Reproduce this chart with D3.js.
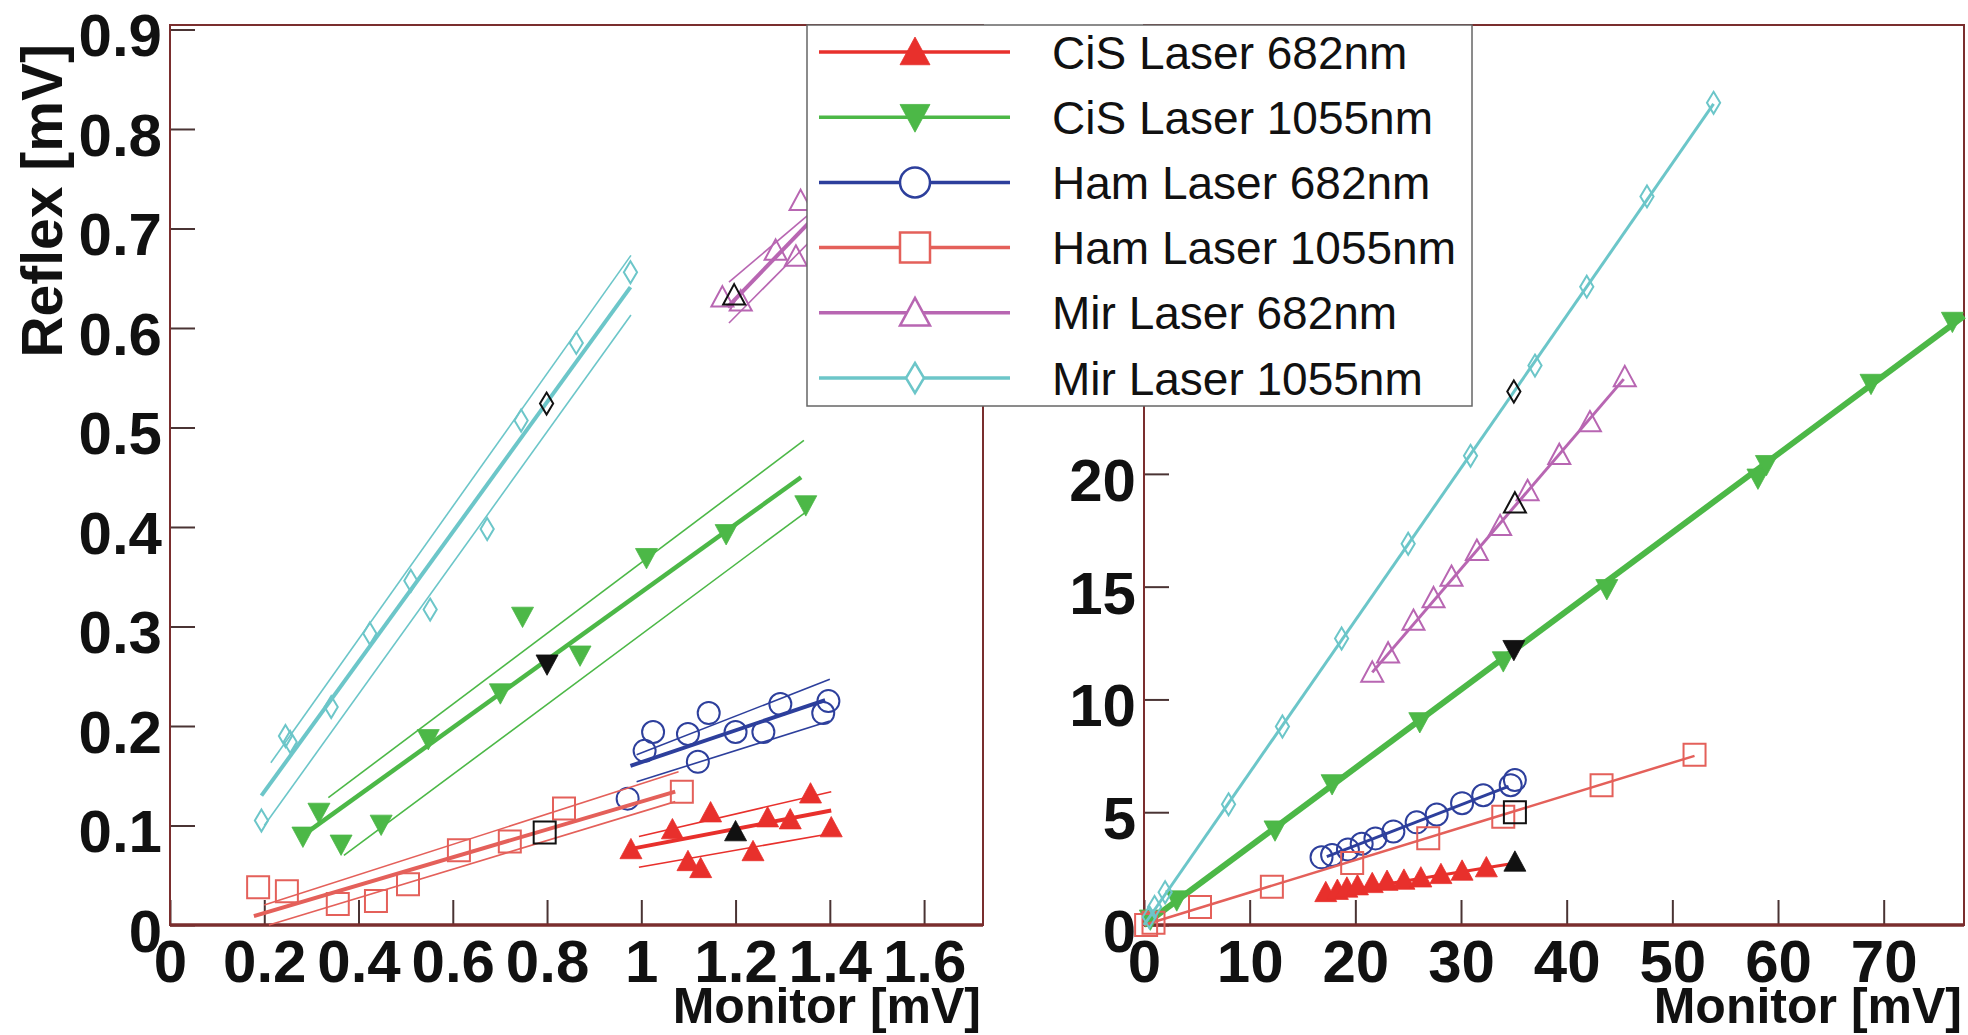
<!DOCTYPE html>
<html>
<head>
<meta charset="utf-8">
<script src="https://cdnjs.cloudflare.com/ajax/libs/d3/7.8.5/d3.min.js"></script>
<style>
  body { margin: 0; background: #fff; }
  svg text { font-family: "Liberation Sans", Arial, Helvetica, sans-serif; }
</style>
</head>
<body>
<div id="chart"></div>
<script>
var seriesNames = ['CiS Laser 682nm', 'CiS Laser 1055nm', 'Ham Laser 682nm', 'Ham Laser 1055nm', 'Mir Laser 682nm', 'Mir Laser 1055nm'];

// left panel (small signals), [monitor mV, reflex mV]
var cis682Left = [[0.978,0.076],[1.066,0.096],[1.099,0.064],[1.126,0.057],[1.147,0.113],[1.237,0.074],[1.268,0.108],[1.316,0.106],[1.359,0.132],[1.403,0.098]];
var cis1055Left = [[0.282,0.089],[0.316,0.113],[0.363,0.081],[0.448,0.101],[0.548,0.187],[0.701,0.233],[0.748,0.31],[0.87,0.271],[1.011,0.369],[1.18,0.393],[1.349,0.422]];
var ham682Left = [[0.971,0.127],[1.007,0.175],[1.025,0.194],[1.099,0.192],[1.12,0.164],[1.143,0.213],[1.2,0.194],[1.259,0.194],[1.295,0.222],[1.386,0.213],[1.397,0.225]];
var ham1055Left = [[0.187,0.038],[0.248,0.034],[0.356,0.021],[0.437,0.024],[0.505,0.041],[0.613,0.075],[0.721,0.084],[0.836,0.117],[1.086,0.134]];
var mir682Left = [[1.172,0.631],[1.211,0.627],[1.285,0.678],[1.328,0.672],[1.338,0.728]];
var mir1055Left = [[0.194,0.105],[0.245,0.19],[0.255,0.184],[0.342,0.219],[0.424,0.293],[0.511,0.346],[0.552,0.317],[0.673,0.398],[0.745,0.507],[0.862,0.585],[0.977,0.656]];

// black reference points (null = none)
var refLeft = [[1.2,0.094], [0.8,0.262], null, [0.795,0.093], [1.197,0.633], [0.799,0.524]];

// fit lines and their error bands
var fitLeft = [
  [[0.984,0.077],[1.403,0.115]],
  [[0.282,0.09],[1.339,0.45]],
  [[0.977,0.16],[1.39,0.226]],
  [[0.178,0.009],[1.072,0.134]],
  [[1.183,0.621],[1.36,0.708]],
  [[0.194,0.13],[0.977,0.641]]
];
var bandLeft = [
  [[[0.995,0.089],[1.403,0.134]], [[0.995,0.058],[1.403,0.092]]],
  [[[0.336,0.128],[1.345,0.487]], [[0.369,0.07],[1.349,0.415]]],
  [[[0.99,0.171],[1.40,0.247]], [[0.99,0.144],[1.40,0.205]]],
  [[[0.2,0.02],[1.079,0.154]], [[0.21,0.0],[1.072,0.124]]],
  [[[1.186,0.646],[1.36,0.716]], [[1.186,0.605],[1.36,0.688]]],
  [[[0.214,0.163],[0.978,0.673]], [[0.2,0.1],[0.978,0.613]]]
];

// right panel (full range)
var cis682Right = [[17.2,1.45],[18.3,1.55],[19.2,1.65],[20.2,1.75],[21.6,1.85],[23.0,1.95],[24.6,2.0],[26.2,2.1],[28.1,2.25],[30.1,2.4],[32.4,2.55]];
var cis1055Right = [[0.6,0.25],[3.1,1.1],[12.4,4.2],[17.8,6.25],[26.1,9.0],[34.0,11.7],[43.8,14.9],[58.1,19.8],[58.9,20.4],[68.8,24.0],[76.5,26.75]];
var ham682Right = [[16.8,3.0],[17.8,3.1],[19.3,3.35],[20.6,3.6],[21.9,3.84],[23.6,4.15],[25.8,4.55],[27.7,4.9],[30.1,5.4],[32.1,5.75],[34.7,6.2],[35.1,6.43]];
var ham1055Right = [[0.2,0.0],[0.9,0.1],[5.3,0.8],[12.1,1.7],[19.7,2.75],[26.9,3.85],[34.0,4.8],[43.3,6.2],[52.1,7.55]];
var mir682Right = [[21.6,11.2],[23.1,12.05],[25.5,13.5],[27.4,14.5],[29.1,15.45],[31.5,16.6],[33.7,17.7],[36.3,19.25],[39.3,20.85],[42.2,22.3],[45.5,24.3]];
var mir1055Right = [[0.5,0.35],[1.0,0.8],[2.0,1.45],[8.0,5.35],[13.1,8.8],[18.7,12.7],[25.0,16.9],[30.9,20.8],[37.0,24.8],[41.9,28.3],[47.6,32.3],[53.9,36.45]];

var refRight = [[35.1,2.8], [35.0,12.2], null, [35.1,5.0], [35.1,18.7], [35.0,23.65]];

var fitRight = [
  [[16.8,1.35],[34.6,2.7]],
  [[0,0],[77.6,27.0]],
  [[17.3,3.03],[34.5,6.15]],
  [[0,0],[52.1,7.5]],
  [[21.6,11.2],[45.4,24.2]],
  [[0,0],[53.9,36.4]]
];

var leftXTicks = [0, 0.2, 0.4, 0.6, 0.8, 1, 1.2, 1.4, 1.6];
var leftXLabels = ['0', '0.2', '0.4', '0.6', '0.8', '1', '1.2', '1.4', '1.6'];
var leftYTicks = [0, 0.1, 0.2, 0.3, 0.4, 0.5, 0.6, 0.7, 0.8, 0.9];
var leftYLabels = ['0', '0.1', '0.2', '0.3', '0.4', '0.5', '0.6', '0.7', '0.8', '0.9'];
var rightXTicks = [0, 10, 20, 30, 40, 50, 60, 70];
var rightXLabels = ['0', '10', '20', '30', '40', '50', '60', '70'];
// labels above 20 sit behind the legend
var rightYTicks = [0, 5, 10, 15, 20];
var rightYLabels = ['0', '5', '10', '15', '20'];

// looks
var looks = [
  {color: '#e8302c', marker: 'tri', filled: true, wL: 4, wR: 3},
  {color: '#4cb847', marker: 'triDown', filled: true, wL: 4.5, wR: 6},
  {color: '#2d3f9c', marker: 'circle', filled: false, wL: 4, wR: 3},
  {color: '#e4605a', marker: 'square', filled: false, wL: 4, wR: 2.5},
  {color: '#b866b2', marker: 'tri', filled: false, wL: 4, wR: 3},
  {color: '#6cc6c9', marker: 'diamond', filled: false, wL: 4, wR: 3}
];
var frameColor = '#7a2e2e';
var tickColor = '#4a3434';

var W = 1968, H = 1035;

var svg = d3.select('#chart').append('svg')
  .attr('width', W)
  .attr('height', H);

svg.append('rect').attr('width', W).attr('height', H).attr('fill', '#fff');

function markerPath(type, s) {
  var h = s / 2;
  if (type === 'tri') return 'M0,' + (-h) + 'L' + h + ',' + (h * 0.85) + 'L' + (-h) + ',' + (h * 0.85) + 'Z';
  if (type === 'triDown') return 'M0,' + h + 'L' + h + ',' + (-h * 0.85) + 'L' + (-h) + ',' + (-h * 0.85) + 'Z';
  if (type === 'square') return 'M' + (-h) + ',' + (-h) + 'H' + h + 'V' + h + 'H' + (-h) + 'Z';
  if (type === 'diamond') return 'M0,' + (-h) + 'L' + (h * 0.6) + ',0L0,' + h + 'L' + (-h * 0.6) + ',0Z';
  return 'M' + (-h) + ',0A' + h + ',' + h + ' 0 1,0 ' + h + ',0A' + h + ',' + h + ' 0 1,0 ' + (-h) + ',0Z';
}

function drawMarker(g, look, cx, cy, size, color) {
  g.append('path')
    .attr('d', markerPath(look.marker, size))
    .attr('transform', 'translate(' + cx + ',' + cy + ')')
    .attr('fill', look.filled ? color : 'none')
    .attr('stroke', color)
    .attr('stroke-width', look.filled ? 0.8 : 2);
}

function drawAxes(g, x, y, xt, xl, xMinor, yt, yl, yMinor, yMajorAll) {
  var x0 = x.range()[0], x1 = x.range()[1];
  var y0 = y.range()[0], y1 = y.range()[1];

  var ax = g.append('g').attr('transform', 'translate(0,' + y0 + ')');
  ax.call(d3.axisBottom(x).tickValues(xMinor).tickSizeInner(-12).tickSizeOuter(0).tickFormat(''));
  ax.call(d3.axisBottom(x).tickValues(xt).tickSizeInner(-25).tickSizeOuter(0).tickPadding(14)
    .tickFormat(function(d, i) { return xl[i]; }));
  ax.selectAll('.domain').remove();
  ax.selectAll('line').attr('stroke', tickColor).attr('stroke-width', 2);
  ax.selectAll('text')
    .attr('font-size', 60)
    .attr('font-weight', 'bold')
    .attr('fill', '#111');

  var ay = g.append('g').attr('transform', 'translate(' + x0 + ',0)');
  ay.call(d3.axisLeft(y).tickValues(yMinor).tickSizeInner(-12).tickSizeOuter(0).tickFormat(''));
  ay.call(d3.axisLeft(y).tickValues(yMajorAll).tickSizeInner(-25).tickSizeOuter(0).tickFormat(''));
  ay.call(d3.axisLeft(y).tickValues(yt).tickSizeInner(-25).tickSizeOuter(0).tickPadding(8)
    .tickFormat(function(d, i) { return yl[i]; }));
  ay.selectAll('.domain').remove();
  ay.selectAll('line').attr('stroke', tickColor).attr('stroke-width', 2);
  ay.selectAll('text')
    .attr('font-size', 60)
    .attr('font-weight', 'bold')
    .attr('fill', '#111')
    .attr('dy', '0.44em');

  // frame
  g.append('rect')
    .attr('x', x0).attr('y', y1)
    .attr('width', x1 - x0).attr('height', y0 - y1)
    .attr('fill', 'none')
    .attr('stroke', frameColor)
    .attr('stroke-width', 2);
  g.append('line')
    .attr('x1', x0).attr('x2', x1).attr('y1', y0).attr('y2', y0)
    .attr('stroke', frameColor).attr('stroke-width', 3.5);

  g.append('text')
    .attr('x', x1 - 2).attr('y', 1023)
    .attr('text-anchor', 'end')
    .attr('font-size', 50)
    .attr('font-weight', 'bold')
    .attr('fill', '#111')
    .text('Monitor [mV]');
}

// ---------- left panel ----------
var xL = d3.scaleLinear().domain([0, 1.725]).range([170, 983]);
var yL = d3.scaleLinear().domain([0, 0.9045]).range([925, 25]);
var left = svg.append('g');

drawAxes(left, xL, yL, leftXTicks, leftXLabels, d3.range(0, 1.72, 0.05),
  leftYTicks, leftYLabels, d3.range(0, 0.905, 0.02), leftYTicks);

left.append('text')
  .attr('transform', 'translate(62,44) rotate(-90)')
  .attr('text-anchor', 'end')
  .attr('font-size', 57)
  .attr('font-weight', 'bold')
  .attr('fill', '#111')
  .text('Reflex [mV]');

var leftPts = [cis682Left, cis1055Left, ham682Left, ham1055Left, mir682Left, mir1055Left];
var lineL = d3.line().x(function(d) { return xL(d[0]); }).y(function(d) { return yL(d[1]); });

leftPts.forEach(function(pts, i) {
  var look = looks[i];
  var g = left.append('g');
  bandLeft[i].forEach(function(b) {
    g.append('path').attr('d', lineL(b)).attr('fill', 'none')
      .attr('stroke', look.color).attr('stroke-width', 1.6);
  });
  g.append('path').attr('d', lineL(fitLeft[i])).attr('fill', 'none')
    .attr('stroke', look.color).attr('stroke-width', look.wL);
  pts.forEach(function(p) {
    drawMarker(g, look, xL(p[0]), yL(p[1]), 22, look.color);
  });
  if (refLeft[i]) {
    drawMarker(g, look, xL(refLeft[i][0]), yL(refLeft[i][1]), 22, '#111');
  }
});

// ---------- right panel ----------
var xR = d3.scaleLinear().domain([0, 77.6]).range([1144, 1964]);
var yR = d3.scaleLinear().domain([0, 39.9]).range([925, 25]);
var right = svg.append('g');

drawAxes(right, xR, yR, rightXTicks, rightXLabels, d3.range(0, 77.6, 2),
  rightYTicks, rightYLabels, d3.range(0, 39.9, 1), d3.range(0, 39.9, 5));

var rightPts = [cis682Right, cis1055Right, ham682Right, ham1055Right, mir682Right, mir1055Right];
var lineR = d3.line().x(function(d) { return xR(d[0]); }).y(function(d) { return yR(d[1]); });

rightPts.forEach(function(pts, i) {
  var look = looks[i];
  var g = right.append('g');
  g.append('path').attr('d', lineR(fitRight[i])).attr('fill', 'none')
    .attr('stroke', look.color).attr('stroke-width', look.wR);
  pts.forEach(function(p) {
    drawMarker(g, look, xR(p[0]), yR(p[1]), 22, look.color);
  });
  if (refRight[i]) {
    drawMarker(g, look, xR(refRight[i][0]), yR(refRight[i][1]), 22, '#111');
  }
});

// ---------- legend ----------
var legend = svg.append('g');
legend.append('rect')
  .attr('x', 807).attr('y', 25)
  .attr('width', 665).attr('height', 381)
  .attr('fill', '#fff')
  .attr('stroke', '#666')
  .attr('stroke-width', 1.5);

seriesNames.forEach(function(name, i) {
  var ly = 52 + i * 65.2;
  var look = looks[i];
  legend.append('line')
    .attr('x1', 819).attr('x2', 1010).attr('y1', ly).attr('y2', ly)
    .attr('stroke', look.color).attr('stroke-width', 3.5);
  legend.append('path')
    .attr('d', markerPath(look.marker, 30))
    .attr('transform', 'translate(915,' + ly + ')')
    .attr('fill', look.filled ? look.color : '#fff')
    .attr('stroke', look.color)
    .attr('stroke-width', look.filled ? 0.8 : 2.5);
  legend.append('text')
    .attr('x', 1052).attr('y', ly + 16.5)
    .attr('font-size', 46)
    .attr('fill', '#111')
    .text(name);
});
</script>
</body>
</html>
